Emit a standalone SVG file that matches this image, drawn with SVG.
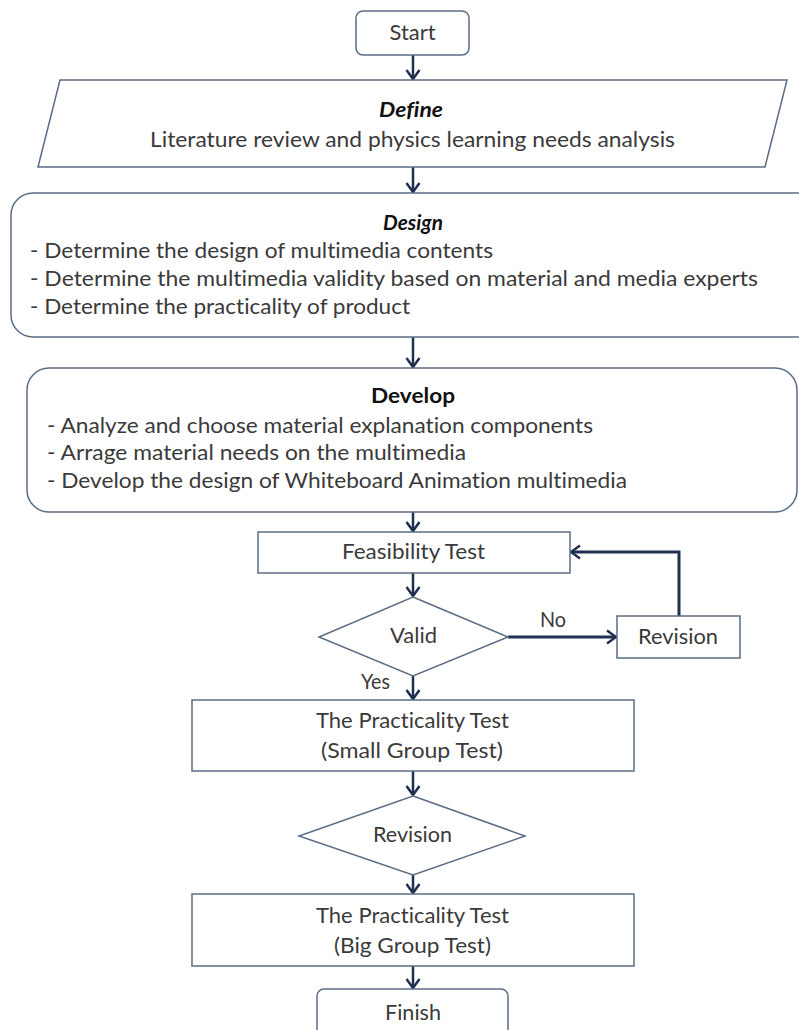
<svg xmlns="http://www.w3.org/2000/svg" width="799" height="1030" viewBox="0 0 799 1030">
<defs>
<style>
.box{fill:#fff;stroke:#5b6d84;stroke-width:1.5}
.t{font-family:Lato,"Open Sans","Liberation Sans",sans-serif;font-size:21px;fill:#3a3a3a;font-variant-ligatures:none}
.c{text-anchor:middle}
.h{font-weight:bold;fill:#111}
.i{font-style:italic}
.con{fill:none;stroke:#1f3050;stroke-width:2.5}
.thick{stroke-width:3}
</style>
<marker id="ah" viewBox="-11 -8 13 16" refX="0" refY="0" markerWidth="13" markerHeight="16" markerUnits="userSpaceOnUse" orient="auto">
<path d="M-9,-6.5 L0,0 L-9,6.5" fill="none" stroke="#1f3050" stroke-width="2.5"/>
</marker>
</defs>
<rect width="799" height="1030" fill="#fff"/>

<g id="connectors">
<line class="con" x1="413" y1="55" x2="413" y2="79" marker-end="url(#ah)"/>
<line class="con" x1="413" y1="167" x2="413" y2="192" marker-end="url(#ah)"/>
<line class="con" x1="413" y1="337" x2="413" y2="367" marker-end="url(#ah)"/>
<line class="con" x1="413" y1="512" x2="413" y2="531" marker-end="url(#ah)"/>
<line class="con" x1="413" y1="573" x2="413" y2="596" marker-end="url(#ah)"/>
<line class="con thick" x1="508" y1="637" x2="616" y2="637" marker-end="url(#ah)"/>
<polyline class="con thick" points="679,616 679,552 571,552" marker-end="url(#ah)"/>
<line class="con" x1="413" y1="676" x2="413" y2="699" marker-end="url(#ah)"/>
<line class="con" x1="413" y1="771" x2="413" y2="795" marker-end="url(#ah)"/>
<line class="con" x1="413" y1="875" x2="413" y2="893" marker-end="url(#ah)"/>
<line class="con" x1="413" y1="966" x2="413" y2="988" marker-end="url(#ah)"/>
<text class="t" x="540" y="627" textLength="26" lengthAdjust="spacingAndGlyphs">No</text>
<text class="t" x="361" y="689" textLength="29" lengthAdjust="spacingAndGlyphs">Yes</text>
</g>

<g id="start">
<rect class="box" x="356" y="11" width="113" height="44" rx="7"/>
<text class="t c" x="412.5" y="40" textLength="46" lengthAdjust="spacingAndGlyphs">Start</text>
</g>

<g id="define">
<polygon class="box" points="60,80 787,80 765,167 38,167"/>
<text class="t c h i" x="411" y="117" textLength="64" lengthAdjust="spacingAndGlyphs">Define</text>
<text class="t c" x="412.5" y="147" textLength="525" lengthAdjust="spacingAndGlyphs">Literature review and physics learning needs analysis</text>
</g>

<g id="design">
<rect class="box" x="11" y="193" width="812" height="144" rx="22"/>
<text class="t c h i" x="413" y="230" textLength="60" lengthAdjust="spacingAndGlyphs">Design</text>
<text class="t" x="30" y="258" textLength="463" lengthAdjust="spacingAndGlyphs">- Determine the design of multimedia contents</text>
<text class="t" x="30" y="286" textLength="728" lengthAdjust="spacingAndGlyphs">- Determine the multimedia validity based on material and media experts</text>
<text class="t" x="30" y="314" textLength="380" lengthAdjust="spacingAndGlyphs">- Determine the practicality of product</text>
</g>

<g id="develop">
<rect class="box" x="27" y="368" width="770" height="144" rx="22"/>
<text class="t c h" x="413" y="403" textLength="84" lengthAdjust="spacingAndGlyphs">Develop</text>
<text class="t" x="47" y="433" textLength="546" lengthAdjust="spacingAndGlyphs">- Analyze and choose material explanation components</text>
<text class="t" x="47" y="460" textLength="419" lengthAdjust="spacingAndGlyphs">- Arrage material needs on the multimedia</text>
<text class="t" x="47" y="488" textLength="580" lengthAdjust="spacingAndGlyphs">- Develop the design of Whiteboard Animation multimedia</text>
</g>

<g id="feasibility">
<rect class="box" x="258" y="532" width="312" height="41"/>
<text class="t c" x="413.5" y="559" textLength="143" lengthAdjust="spacingAndGlyphs">Feasibility Test</text>
</g>

<g id="valid">
<polygon class="box" points="413,597 508,637 413,676 319,637"/>
<text class="t c" x="413.5" y="643" textLength="47" lengthAdjust="spacingAndGlyphs">Valid</text>
</g>

<g id="revision1">
<rect class="box" x="617" y="616" width="123" height="42"/>
<text class="t c" x="678" y="644" textLength="80" lengthAdjust="spacingAndGlyphs">Revision</text>
</g>

<g id="small-group">
<rect class="box" x="192" y="700" width="442" height="71"/>
<text class="t c" x="412.5" y="728" textLength="193" lengthAdjust="spacingAndGlyphs">The Practicality Test</text>
<text class="t c" x="412" y="758" textLength="182" lengthAdjust="spacingAndGlyphs">(Small Group Test)</text>
</g>

<g id="revision2">
<polygon class="box" points="413,796 525,836 413,875 299,836"/>
<text class="t c" x="412.5" y="842" textLength="79" lengthAdjust="spacingAndGlyphs">Revision</text>
</g>

<g id="big-group">
<rect class="box" x="192" y="894" width="442" height="72"/>
<text class="t c" x="412.5" y="923" textLength="193" lengthAdjust="spacingAndGlyphs">The Practicality Test</text>
<text class="t c" x="412.5" y="953" textLength="157" lengthAdjust="spacingAndGlyphs">(Big Group Test)</text>
</g>

<g id="finish">
<rect class="box" x="317" y="989" width="191" height="60" rx="7"/>
<text class="t c" x="413" y="1020" textLength="56" lengthAdjust="spacingAndGlyphs">Finish</text>
</g>
</svg>
